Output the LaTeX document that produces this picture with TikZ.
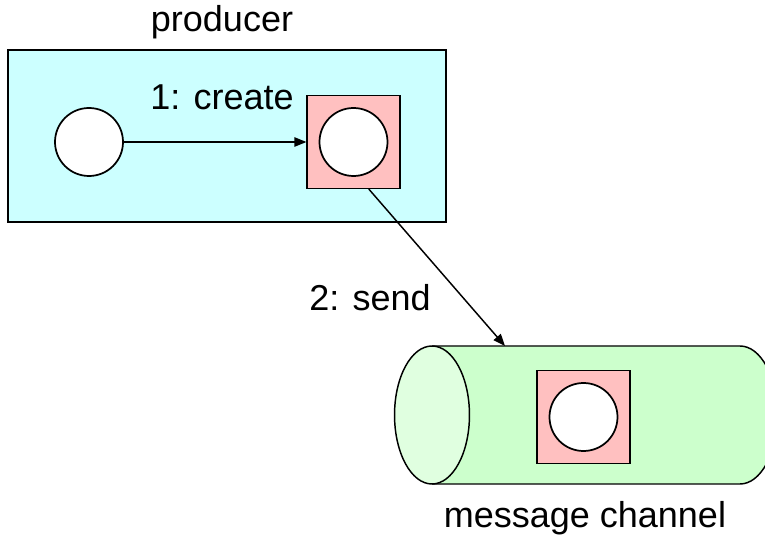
\documentclass[tikz,border=0pt]{standalone}
\usepackage{fontspec}
\setmainfont{Liberation Sans}
\usetikzlibrary{arrows.meta}

\definecolor{prodcyan}{HTML}{CCFFFF}
\definecolor{msgpink}{HTML}{FFC0C0}
\definecolor{chanbody}{HTML}{CCFFCC}
\definecolor{chanend}{HTML}{E0FFE0}

\tikzset{
    obj/.style={circle, draw, line width=1.3pt, fill=white, minimum size=51pt, inner sep=0pt},
    msgbox/.style={rectangle, draw, line width=1.1pt, fill=msgpink, minimum size=69.5pt, inner sep=0pt},
    lbl/.style={font=\fontsize{27}{30}\selectfont, inner sep=0pt},
    flow/.style={line width=1.1pt, -{Triangle[length=9pt,width=7pt]}}
}

\begin{document}
\begin{tikzpicture}[x=0.75pt,y=-0.75pt]
    \useasboundingbox (0,0) rectangle (765,541);

    % Producer
    \node[draw, line width=1.1pt, fill=prodcyan, minimum width=328.5pt, minimum height=129pt,
          inner sep=0pt] (producer) at (227,136) {};
    \node[lbl] (prodlabel) at (222,22) {producer};

    \node[obj] (src) at (89,142) {};
    \node[msgbox] (msg) at (353.5,142) {};
    \node[obj] (msgobj) at (msg) {};

    \draw[flow] (src.east) -- (msg.west);
    \node[lbl] (create) at (222,97) {1: create};

    % Message channel
    \def\cl{432}
    \def\cr{740}
    \def\ct{346}
    \def\cb{484}
    \draw[line width=1.1pt, fill=chanbody] (\cl,\ct) -- (\cr,\ct)
        arc[start angle=90, end angle=-90, x radius=28.1pt, y radius=51.75pt] -- (\cl,\cb);
    \draw[line width=1.1pt, fill=chanend] (\cl,{(\ct+\cb)/2}) ellipse[x radius=28.1pt, y radius=51.75pt];
    \coordinate (chantop) at (505,\ct);

    \node[msgbox] (chanmsg) at (583.5,417) {};
    \node[obj] (chanobj) at (chanmsg) {};
    \node[lbl] (chanlabel) at (585,518) {message channel};

    \draw[flow] (msg.-72) -- (chantop);
    \node[lbl] (send) at (370,298) {2: send};
\end{tikzpicture}
\end{document}
